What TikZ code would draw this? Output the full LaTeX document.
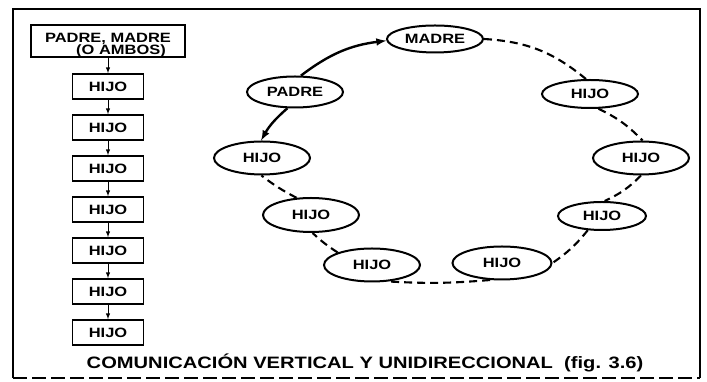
\documentclass[tikz,border=0pt]{standalone}
\usepackage{fontspec}
\setmainfont{Liberation Sans}[FakeStretch=1.22]
\usepackage{tikz}
\usetikzlibrary{shapes,shapes.geometric}
\usetikzlibrary{calc,arrows,positioning}

\begin{document}
\begin{tikzpicture}[x=1pt,y=1pt]
	\tikzstyle{caja}=[rectangle, draw, line width=1.5pt, minimum width=71pt, minimum height=25pt, inner sep=1pt, font=\fontsize{13.5}{12}\selectfont\bfseries]
	\tikzstyle{elipse}=[ellipse, draw, line width=2pt, minimum width=96pt, minimum height=31pt, inner sep=0pt, font=\fontsize{13.5}{12}\selectfont\bfseries]
	\tikzstyle{flecha}=[->, >=latex, line width=1pt]
	\tikzstyle{trazo}=[->, >=latex, line width=2.4pt]
	\tikzstyle{guion}=[dash pattern=on 8pt off 5pt, line width=2.1pt]
	\useasboundingbox (0,0) rectangle (707,382);
	% marco
	\draw[line width=2.6pt] (13,4) -- (13,373) -- (700,373) -- (700,4);
	\draw[line width=2.6pt, dash pattern=on 14pt off 5pt] (13,4) -- (700,4);
	% columna vertical
	\node[caja, minimum width=154pt, minimum height=31pt, inner ysep=0pt, align=center] (padres) at (108,341) {\rule{0pt}{17pt}PADRE, MADRE\\ \hspace*{26pt}(O AMBOS)};
	\node[caja, below=15.5pt of padres] (h1) {HIJO};
	\draw[flecha] (padres) -- (h1);
	\foreach \i [count=\j from 1] in {2,...,7}{
		\node[caja, below=14.5pt of h\j] (h\i) {HIJO};
		\draw[flecha] (h\j) -- (h\i);
	}
	% circulo
	\node[elipse, minimum height=27pt] (madre) at (435,343) {MADRE};
	\node[elipse] (padre) at (295,290) {PADRE};
	\node[elipse, minimum height=33pt] (ha) at (262,224) {HIJO};
	\node[elipse, minimum height=28pt] (hb) at (590,288) {HIJO};
	\node[elipse, minimum height=33pt] (hc) at (641,224) {HIJO};
	\node[elipse, minimum width=88pt, minimum height=28pt] (hd) at (602,166) {HIJO};
	\node[elipse, minimum width=99pt, minimum height=33pt] (he) at (502,119) {HIJO};
	\node[elipse, minimum height=33pt] (hf) at (372,117) {HIJO};
	\node[elipse, minimum height=34pt] (hg) at (311,167) {HIJO};
	\draw[trazo] (padre.70) to[bend left=15] (madre.182);
	\draw[trazo] (padre.-115) to[bend right=10] (ha.93);
	\draw[guion] (madre.east) to[bend left=18] (hb.105);
	\draw[guion] (hb.-60) to[bend left=10] (hc.85);
	\draw[guion] (hc.-90) to[bend left=10] (hd.80);
	\draw[guion] (hd.-135) to[bend left=8] (he.east);
	\draw[guion] (he.-125) to[bend left=4] (hf.-45);
	\draw[guion] (hf.160) to[bend left=5] (hg.-85);
	\draw[guion] (hg.130) to[bend left=5] (ha.-92);
	% titulo
	\node[font=\fontsize{16.5}{16}\selectfont\bfseries] (titulo) at (365,19) {COMUNICACIÓN VERTICAL Y UNIDIRECCIONAL\ \ (fig. 3.6)};
\end{tikzpicture}
\end{document}
